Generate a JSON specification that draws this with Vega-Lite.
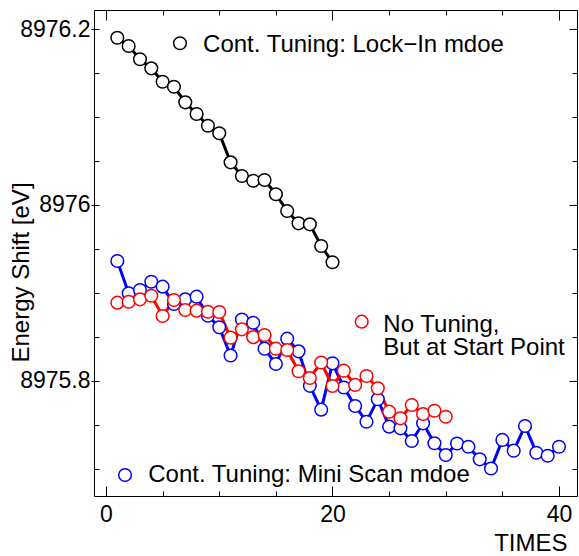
{
  "$schema": "https://vega.github.io/schema/vega-lite/v6.json",
  "width": 483,
  "height": 486,
  "autosize": "none",
  "padding": {"left": 94, "top": 10, "right": 2, "bottom": 60},
  "background": "white",
  "config": {
    "view": {"stroke": "black", "strokeWidth": 1},
    "font": "Liberation Sans",
    "axis": {
      "domain": false,
      "grid": false,
      "tickColor": "black",
      "tickWidth": 1,
      "labelColor": "black",
      "labelFont": "Liberation Sans",
      "labelFontSize": 23,
      "titleFont": "Liberation Sans",
      "titleFontWeight": "normal",
      "titleFontSize": 24,
      "titleColor": "black"
    }
  },
  "datasets": {
    "runs": [
      {"run": "mini", "t": 1, "shift": 8975.9364},
      {"run": "mini", "t": 2, "shift": 8975.8997},
      {"run": "mini", "t": 3, "shift": 8975.9034},
      {"run": "mini", "t": 4, "shift": 8975.9128},
      {"run": "mini", "t": 5, "shift": 8975.9072},
      {"run": "mini", "t": 6, "shift": 8975.8875},
      {"run": "mini", "t": 7, "shift": 8975.8928},
      {"run": "mini", "t": 8, "shift": 8975.8958},
      {"run": "mini", "t": 9, "shift": 8975.8742},
      {"run": "mini", "t": 10, "shift": 8975.861},
      {"run": "mini", "t": 11, "shift": 8975.829},
      {"run": "mini", "t": 12, "shift": 8975.8699},
      {"run": "mini", "t": 13, "shift": 8975.8662},
      {"run": "mini", "t": 14, "shift": 8975.8367},
      {"run": "mini", "t": 15, "shift": 8975.8193},
      {"run": "mini", "t": 16, "shift": 8975.8481},
      {"run": "mini", "t": 17, "shift": 8975.8337},
      {"run": "mini", "t": 18, "shift": 8975.7945},
      {"run": "mini", "t": 19, "shift": 8975.7674},
      {"run": "mini", "t": 20, "shift": 8975.8201},
      {"run": "mini", "t": 21, "shift": 8975.7926},
      {"run": "mini", "t": 22, "shift": 8975.7716},
      {"run": "mini", "t": 23, "shift": 8975.7537},
      {"run": "mini", "t": 24, "shift": 8975.7792},
      {"run": "mini", "t": 25, "shift": 8975.7481},
      {"run": "mini", "t": 26, "shift": 8975.7462},
      {"run": "mini", "t": 27, "shift": 8975.7318},
      {"run": "mini", "t": 28, "shift": 8975.7519},
      {"run": "mini", "t": 29, "shift": 8975.7292},
      {"run": "mini", "t": 30, "shift": 8975.7159},
      {"run": "mini", "t": 31, "shift": 8975.729},
      {"run": "mini", "t": 32, "shift": 8975.7253},
      {"run": "mini", "t": 33, "shift": 8975.711},
      {"run": "mini", "t": 34, "shift": 8975.7006},
      {"run": "mini", "t": 35, "shift": 8975.733},
      {"run": "mini", "t": 36, "shift": 8975.7208},
      {"run": "mini", "t": 37, "shift": 8975.7489},
      {"run": "mini", "t": 38, "shift": 8975.7185},
      {"run": "mini", "t": 39, "shift": 8975.715},
      {"run": "mini", "t": 40, "shift": 8975.7253},
      {"run": "none", "t": 1, "shift": 8975.889},
      {"run": "none", "t": 2, "shift": 8975.8901},
      {"run": "none", "t": 3, "shift": 8975.8928},
      {"run": "none", "t": 4, "shift": 8975.8969},
      {"run": "none", "t": 5, "shift": 8975.8739},
      {"run": "none", "t": 6, "shift": 8975.892},
      {"run": "none", "t": 7, "shift": 8975.8807},
      {"run": "none", "t": 8, "shift": 8975.8799},
      {"run": "none", "t": 9, "shift": 8975.8787},
      {"run": "none", "t": 10, "shift": 8975.8784},
      {"run": "none", "t": 11, "shift": 8975.8492},
      {"run": "none", "t": 12, "shift": 8975.8587},
      {"run": "none", "t": 13, "shift": 8975.8498},
      {"run": "none", "t": 14, "shift": 8975.8523},
      {"run": "none", "t": 15, "shift": 8975.8367},
      {"run": "none", "t": 16, "shift": 8975.8352},
      {"run": "none", "t": 17, "shift": 8975.8111},
      {"run": "none", "t": 18, "shift": 8975.8034},
      {"run": "none", "t": 19, "shift": 8975.821},
      {"run": "none", "t": 20, "shift": 8975.7943},
      {"run": "none", "t": 21, "shift": 8975.8117},
      {"run": "none", "t": 22, "shift": 8975.7955},
      {"run": "none", "t": 23, "shift": 8975.8057},
      {"run": "none", "t": 24, "shift": 8975.7917},
      {"run": "none", "t": 25, "shift": 8975.7651},
      {"run": "none", "t": 26, "shift": 8975.7576},
      {"run": "none", "t": 27, "shift": 8975.7727},
      {"run": "none", "t": 28, "shift": 8975.7625},
      {"run": "none", "t": 29, "shift": 8975.7662},
      {"run": "none", "t": 30, "shift": 8975.7594},
      {"run": "lock", "t": 1, "shift": 8976.1901},
      {"run": "lock", "t": 2, "shift": 8976.1807},
      {"run": "lock", "t": 3, "shift": 8976.1656},
      {"run": "lock", "t": 4, "shift": 8976.1553},
      {"run": "lock", "t": 5, "shift": 8976.1401},
      {"run": "lock", "t": 6, "shift": 8976.1344},
      {"run": "lock", "t": 7, "shift": 8976.1167},
      {"run": "lock", "t": 8, "shift": 8976.1034},
      {"run": "lock", "t": 9, "shift": 8976.0901},
      {"run": "lock", "t": 10, "shift": 8976.0815},
      {"run": "lock", "t": 11, "shift": 8976.0485},
      {"run": "lock", "t": 12, "shift": 8976.033},
      {"run": "lock", "t": 13, "shift": 8976.0276},
      {"run": "lock", "t": 14, "shift": 8976.0284},
      {"run": "lock", "t": 15, "shift": 8976.0122},
      {"run": "lock", "t": 16, "shift": 8975.9932},
      {"run": "lock", "t": 17, "shift": 8975.9792},
      {"run": "lock", "t": 18, "shift": 8975.978},
      {"run": "lock", "t": 19, "shift": 8975.9534},
      {"run": "lock", "t": 20, "shift": 8975.9349}
    ],
    "keys": [
      {"run": "lock", "ct": 6.53, "cv": 8976.1838, "tt": 8.57, "tv": 8976.1742, "label": "Cont. Tuning: Lock−In mdoe"},
      {"run": "none", "ct": 22.58, "cv": 8975.8674, "tt": 24.49, "tv": 8975.8562, "label": "No Tuning,\nBut at Start Point"},
      {"run": "mini", "ct": 1.68, "cv": 8975.6932, "tt": 3.73, "tv": 8975.6852, "label": "Cont. Tuning: Mini Scan mdoe"}
    ]
  },
  "resolve": {"axis": {"x": "independent", "y": "independent"}},
  "layer": [
    {
      "data": {"name": "runs"},
      "mark": {"type": "line"},
      "encoding": {
        "x": {
          "field": "t", "type": "quantitative",
          "scale": {"domain": [-1.06, 41.59], "nice": false, "zero": false},
          "axis": {
            "orient": "bottom", "values": [0, 20, 40], "tickSize": 10, "offset": -10,
            "labelPadding": 7, "title": "TIMES", "titleFontSize": 24,
            "titleAnchor": "end", "titleAlign": "right", "titleBaseline": "alphabetic",
            "titleX": 473, "titleY": 64
          }
        },
        "y": {
          "field": "shift", "type": "quantitative",
          "scale": {"domain": [8975.6693, 8976.2216], "nice": false, "zero": false},
          "axis": {
            "orient": "left", "values": [8975.8, 8976, 8976.2], "format": "~f",
            "tickSize": 8, "offset": -5, "labelPadding": 1,
            "title": "Energy Shift [eV]", "titleAngle": -90,
            "titleAlign": "center", "titleBaseline": "middle",
            "titleX": -78, "titleY": 262
          }
        },
        "color": {
          "field": "run", "type": "nominal",
          "scale": {"domain": ["mini", "none", "lock"], "range": ["#0000ff", "#ff0000", "#000000"]},
          "legend": null
        },
        "strokeWidth": {
          "field": "run", "type": "nominal",
          "scale": {"domain": ["mini", "none", "lock"], "range": [3, 3, 2]},
          "legend": null
        }
      }
    },
    {
      "data": {"name": "runs"},
      "mark": {"type": "point", "shape": "circle", "filled": false, "fill": "white", "fillOpacity": 1, "strokeWidth": 1.5, "size": 160, "opacity": 1},
      "encoding": {
        "x": {
          "field": "t", "type": "quantitative",
          "scale": {"domain": [-1.06, 41.59], "nice": false, "zero": false},
          "axis": {"orient": "bottom", "values": [5, 10, 15, 25, 30, 35], "tickSize": 5, "offset": -5, "labels": false, "title": null}
        },
        "y": {
          "field": "shift", "type": "quantitative",
          "scale": {"domain": [8975.6693, 8976.2216], "nice": false, "zero": false},
          "axis": {"orient": "left", "values": [8975.7, 8975.75, 8975.85, 8975.9, 8975.95, 8976.05, 8976.1, 8976.15], "tickSize": 5, "offset": -5, "labels": false, "title": null}
        },
        "color": {"field": "run", "type": "nominal", "legend": null}
      }
    },
    {
      "data": {"name": "keys"},
      "mark": {"type": "point", "shape": "circle", "filled": false, "fill": "white", "fillOpacity": 1, "strokeWidth": 1.5, "size": 160, "opacity": 1},
      "encoding": {
        "x": {
          "field": "ct", "type": "quantitative",
          "scale": {"domain": [-1.06, 41.59], "nice": false, "zero": false},
          "axis": {"orient": "top", "values": [0, 20, 40], "tickSize": 10, "offset": -10, "labels": false, "title": null}
        },
        "y": {
          "field": "cv", "type": "quantitative",
          "scale": {"domain": [8975.6693, 8976.2216], "nice": false, "zero": false},
          "axis": {"orient": "right", "values": [8975.8, 8976, 8976.2], "tickSize": 8, "offset": -8, "labels": false, "title": null}
        },
        "color": {"field": "run", "type": "nominal", "legend": null}
      }
    },
    {
      "data": {"name": "keys"},
      "mark": {"type": "text", "align": "left", "baseline": "alphabetic", "fontSize": 24, "lineBreak": "\n", "lineHeight": 23, "color": "black", "font": "Liberation Sans"},
      "encoding": {
        "x": {
          "field": "tt", "type": "quantitative",
          "scale": {"domain": [-1.06, 41.59], "nice": false, "zero": false},
          "axis": {"orient": "top", "values": [5, 10, 15, 25, 30, 35], "tickSize": 5, "offset": -5, "labels": false, "title": null}
        },
        "y": {
          "field": "tv", "type": "quantitative",
          "scale": {"domain": [8975.6693, 8976.2216], "nice": false, "zero": false},
          "axis": {"orient": "right", "values": [8975.7, 8975.75, 8975.85, 8975.9, 8975.95, 8976.05, 8976.1, 8976.15], "tickSize": 5, "offset": -5, "labels": false, "title": null}
        },
        "text": {"field": "label", "type": "nominal"}
      }
    }
  ]
}
